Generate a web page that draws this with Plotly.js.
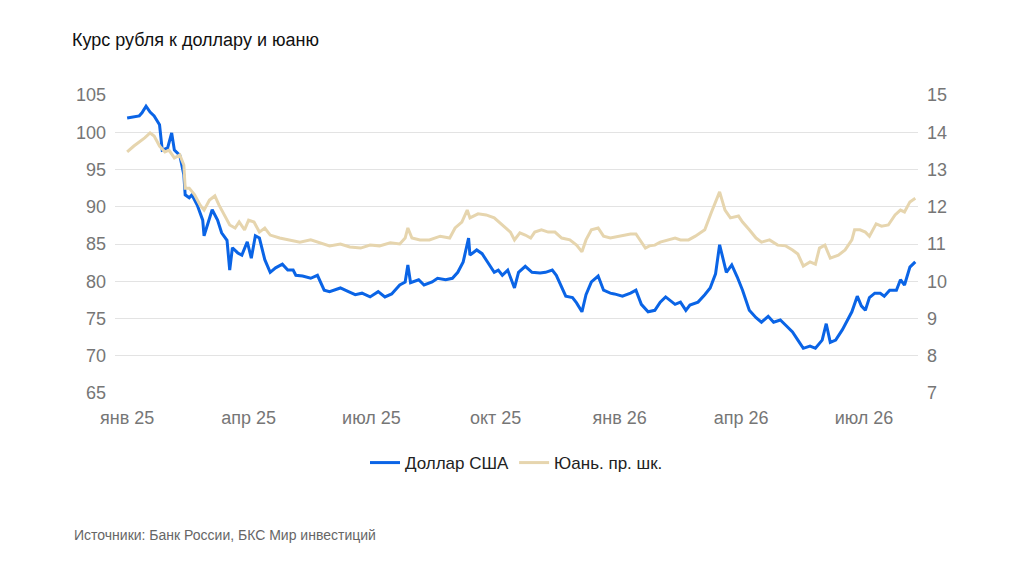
<!DOCTYPE html>
<html><head><meta charset="utf-8">
<script src="https://cdn.plot.ly/plotly-3.0.1.min.js"></script>
<style>body{margin:0;background:#fff}#c{width:1024px;height:563px}</style>
</head><body><div id="c"></div>
<script>
const usdRub = [
["2025-01-01",101.9],["2025-01-10",102.2],["2025-01-12",102.6],["2025-01-15",103.5],["2025-01-18",102.7],["2025-01-21",102.2],["2025-01-25",101.0],["2025-01-27",97.6],["2025-01-31",97.9],["2025-02-03",99.9],["2025-02-05",97.6],["2025-02-09",96.9],["2025-02-12",94.3],["2025-02-13",91.6],["2025-02-16",91.2],["2025-02-18",91.6],["2025-02-22",90.2],["2025-02-26",88.2],["2025-02-27",86.1],["2025-03-02",88.0],["2025-03-05",89.6],["2025-03-09",88.2],["2025-03-12",86.5],["2025-03-16",85.5],["2025-03-18",81.5],["2025-03-20",84.5],["2025-03-24",83.8],["2025-03-27",83.5],["2025-03-31",85.3],["2025-04-03",83.1],["2025-04-06",86.1],["2025-04-09",85.8],["2025-04-13",82.9],["2025-04-17",81.2],["2025-04-21",81.8],["2025-04-26",82.3],["2025-04-30",81.5],["2025-05-04",81.5],["2025-05-06",80.8],["2025-05-11",80.7],["2025-05-17",80.4],["2025-05-22",80.8],["2025-05-27",78.8],["2025-05-31",78.6],["2025-06-08",79.1],["2025-06-14",78.6],["2025-06-19",78.2],["2025-06-24",78.4],["2025-06-30",77.9],["2025-07-06",78.6],["2025-07-11",77.9],["2025-07-16",78.3],["2025-07-22",79.5],["2025-07-26",79.9],["2025-07-28",82.2],["2025-07-30",79.8],["2025-08-05",80.2],["2025-08-09",79.5],["2025-08-15",79.9],["2025-08-19",80.4],["2025-08-25",80.2],["2025-08-30",80.4],["2025-09-03",81.2],["2025-09-07",82.6],["2025-09-11",85.8],["2025-09-12",83.5],["2025-09-17",84.2],["2025-09-21",83.7],["2025-09-25",82.6],["2025-09-30",81.2],["2025-10-03",81.5],["2025-10-06",80.8],["2025-10-10",81.5],["2025-10-15",79.1],["2025-10-18",81.2],["2025-10-23",82.0],["2025-10-28",81.2],["2025-11-03",81.1],["2025-11-07",81.2],["2025-11-12",81.5],["2025-11-15",80.8],["2025-11-18",79.5],["2025-11-22",78.0],["2025-11-27",77.8],["2025-11-30",77.1],["2025-12-04",75.9],["2025-12-07",78.2],["2025-12-11",79.9],["2025-12-16",80.7],["2025-12-20",78.8],["2025-12-25",78.4],["2025-12-28",78.3],["2026-01-03",78.0],["2026-01-09",78.4],["2026-01-13",78.8],["2026-01-17",76.9],["2026-01-22",75.9],["2026-01-27",76.1],["2026-01-31",77.2],["2026-02-04",77.9],["2026-02-07",77.5],["2026-02-11",76.9],["2026-02-15",77.2],["2026-02-19",76.1],["2026-02-22",76.8],["2026-02-28",77.2],["2026-03-05",78.2],["2026-03-09",79.1],["2026-03-13",81.0],["2026-03-16",84.9],["2026-03-21",81.2],["2026-03-25",82.2],["2026-03-29",80.6],["2026-04-02",78.8],["2026-04-07",76.1],["2026-04-12",75.1],["2026-04-16",74.5],["2026-04-21",75.3],["2026-04-25",74.5],["2026-04-30",74.8],["2026-05-04",74.1],["2026-05-09",73.2],["2026-05-13",72.1],["2026-05-17",71.0],["2026-05-22",71.3],["2026-05-26",71.0],["2026-05-31",72.1],["2026-06-03",74.3],["2026-06-06",71.8],["2026-06-10",72.1],["2026-06-15",73.5],["2026-06-19",74.8],["2026-06-22",75.9],["2026-06-26",78.0],["2026-06-29",76.7],["2026-07-02",76.1],["2026-07-05",77.8],["2026-07-09",78.4],["2026-07-13",78.4],["2026-07-16",78.0],["2026-07-20",78.8],["2026-07-25",78.8],["2026-07-28",80.2],["2026-07-31",79.5],["2026-08-04",81.9],["2026-08-08",82.6]
];
const cnyRub = [
["2025-01-01",13.47],["2025-01-06",13.63],["2025-01-14",13.85],["2025-01-18",13.98],["2025-01-21",13.90],["2025-01-25",13.63],["2025-01-29",13.47],["2025-02-01",13.52],["2025-02-05",13.31],["2025-02-09",13.39],["2025-02-12",13.12],["2025-02-13",12.50],["2025-02-16",12.50],["2025-02-20",12.32],["2025-02-24",12.05],["2025-02-27",11.91],["2025-03-03",12.18],["2025-03-07",12.29],["2025-03-10",12.05],["2025-03-14",11.78],["2025-03-18",11.51],["2025-03-22",11.43],["2025-03-25",11.59],["2025-03-29",11.38],["2025-04-01",11.64],["2025-04-05",11.59],["2025-04-09",11.32],["2025-04-13",11.43],["2025-04-17",11.24],["2025-04-24",11.16],["2025-05-02",11.11],["2025-05-09",11.05],["2025-05-17",11.11],["2025-05-24",11.03],["2025-05-31",10.95],["2025-06-08",11.00],["2025-06-15",10.92],["2025-06-23",10.89],["2025-06-30",10.97],["2025-07-07",10.95],["2025-07-15",11.03],["2025-07-22",11.00],["2025-07-26",11.16],["2025-07-28",11.43],["2025-07-31",11.16],["2025-08-06",11.11],["2025-08-13",11.11],["2025-08-21",11.21],["2025-08-28",11.16],["2025-09-01",11.43],["2025-09-06",11.59],["2025-09-10",11.91],["2025-09-12",11.70],["2025-09-18",11.81],["2025-09-24",11.78],["2025-09-30",11.70],["2025-10-06",11.51],["2025-10-12",11.32],["2025-10-15",11.11],["2025-10-19",11.30],["2025-10-23",11.24],["2025-10-27",11.16],["2025-10-30",11.32],["2025-11-04",11.38],["2025-11-09",11.32],["2025-11-14",11.32],["2025-11-19",11.16],["2025-11-25",11.11],["2025-11-30",10.97],["2025-12-04",10.79],["2025-12-07",11.11],["2025-12-11",11.38],["2025-12-16",11.43],["2025-12-20",11.21],["2025-12-25",11.16],["2026-01-01",11.21],["2026-01-09",11.27],["2026-01-13",11.27],["2026-01-16",11.11],["2026-01-20",10.89],["2026-01-23",10.95],["2026-01-27",10.97],["2026-01-31",11.05],["2026-02-06",11.11],["2026-02-11",11.16],["2026-02-15",11.11],["2026-02-21",11.11],["2026-02-26",11.21],["2026-03-05",11.38],["2026-03-10",11.86],["2026-03-15",12.32],["2026-03-16",12.40],["2026-03-20",11.91],["2026-03-24",11.70],["2026-03-30",11.75],["2026-04-02",11.59],["2026-04-07",11.38],["2026-04-12",11.16],["2026-04-16",11.05],["2026-04-22",11.11],["2026-04-28",10.97],["2026-05-04",10.95],["2026-05-09",10.84],["2026-05-13",10.73],["2026-05-17",10.41],["2026-05-22",10.52],["2026-05-26",10.46],["2026-05-29",10.89],["2026-06-02",10.97],["2026-06-06",10.62],["2026-06-12",10.70],["2026-06-17",10.84],["2026-06-22",11.11],["2026-06-24",11.38],["2026-06-28",11.38],["2026-07-02",11.32],["2026-07-05",11.21],["2026-07-10",11.54],["2026-07-14",11.48],["2026-07-19",11.51],["2026-07-24",11.78],["2026-07-28",11.91],["2026-07-31",11.86],["2026-08-04",12.13],["2026-08-08",12.23]
];
const tickDates = ["2025-01-01","2025-04-01","2025-07-01","2025-10-01","2026-01-01","2026-04-01","2026-07-01"];
const tickLabels = ["янв 25","апр 25","июл 25","окт 25","янв 26","апр 26","июл 26"];
const leftTicks = [65,70,75,80,85,90,95,100,105];
const rightTicks = [7,8,9,10,11,12,13,14,15];

const traces = [
 {x: usdRub.map(p=>p[0]), y: usdRub.map(p=>p[1]), name:"Доллар США", type:"scatter", mode:"lines",
  line:{color:"#0a64e6", width:3}},
 {x: cnyRub.map(p=>p[0]), y: cnyRub.map(p=>p[1]), name:"Юань. пр. шк.", type:"scatter", mode:"lines",
  yaxis:"y2", line:{color:"#e6d5ae", width:3}}
];
const tf = {family:"Liberation Sans, Arial, sans-serif", size:18, color:"#767676"};
const layout = {
 width:1024, height:563, margin:{l:115, r:106, t:95, b:170},
 paper_bgcolor:"#fff", plot_bgcolor:"#fff",
 font:{family:"Liberation Sans, Arial, sans-serif"},
 title:{text:"Курс рубля к доллару и юаню", x:72/1024, xanchor:"left", y:1-40/563, yanchor:"middle",
   font:{size:18, color:"#111"}},
 xaxis:{type:"date", range:["2024-12-23","2026-08-10"], tickvals:tickDates, ticktext:tickLabels,
   showgrid:false, zeroline:false, showline:false, ticks:"", tickfont:tf, ticklabelstandoff:12},
 yaxis:{range:[65,105], tickvals:leftTicks, showgrid:true, gridcolor:"#e3e3e3", gridwidth:1,
   zeroline:false, ticks:"", tickfont:tf, ticklabelstandoff:8},
 yaxis2:{range:[7,15], tickvals:rightTicks, overlaying:"y", side:"right", showgrid:false,
   zeroline:false, ticks:"", tickfont:tf, ticklabelstandoff:8},
 showlegend:true,
 legend:{orientation:"h", x:0.5, xanchor:"center", y:-0.235, yanchor:"middle",
   font:{size:17, color:"#222"}},
 annotations:[{text:"Источники: Банк России, БКС Мир инвестиций", xref:"paper", yref:"paper",
   x:-43/803, xanchor:"left", y:-142/298, yanchor:"middle", showarrow:false,
   font:{size:14, color:"#666"}}]
};
Plotly.newPlot("c", traces, layout, {displayModeBar:false, staticPlot:true});
</script></body></html>
